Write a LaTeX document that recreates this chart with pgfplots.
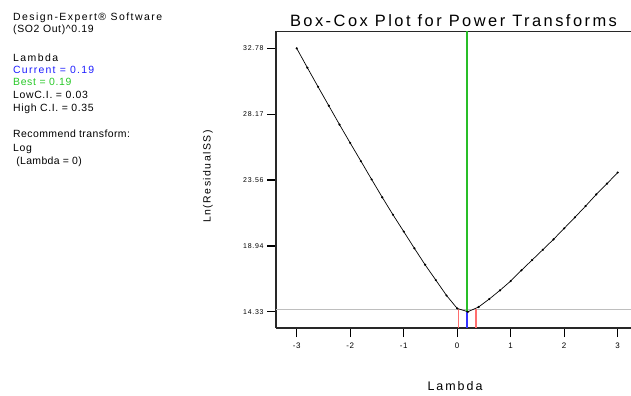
\documentclass[border=0pt]{standalone}
\usepackage{pgfplots}
\pgfplotsset{compat=1.18}
\usepackage{fontspec}
\setmainfont{Liberation Sans}

\definecolor{curblue}{RGB}{30,30,255}
\definecolor{bestgreen}{RGB}{40,200,40}
\definecolor{linegreen}{RGB}{40,190,40}
\definecolor{lineblue}{RGB}{50,50,255}
\definecolor{cired}{RGB}{255,110,110}
\definecolor{refgray}{RGB}{190,190,190}
\definecolor{axgray}{RGB}{40,40,40}

% letter-spaced text at a given size
\newcommand\txt[2]{\fontsize{#1}{#1}\selectfont\addfontfeature{LetterSpace=#2}}

\begin{document}
\begin{tikzpicture}
\useasboundingbox (0,0) rectangle (631bp,396bp);

% information panel on the left
\begin{scope}[every node/.style={anchor=base west, inner sep=0pt}]
\node at (13bp,{396bp-20.7bp}) {\txt{10.5}{14}Design-Expert\textregistered{} Software};
\node at (13bp,{396bp-32.7bp}) {\txt{10.5}{6}(SO2 Out)\^{}0.19};
\node at (13bp,{396bp-61.5bp}) {\txt{10.5}{14}Lambda};
\node at (13bp,{396bp-74bp}) {\txt{10.5}{12}\color{curblue}Current = 0.19};
\node at (13bp,{396bp-86bp}) {\txt{10.5}{6}\color{bestgreen}Best = 0.19};
\node at (13bp,{396bp-99bp}) {\txt{10.5}{6}LowC.I. = 0.03};
\node at (13bp,{396bp-112bp}) {\txt{10.5}{6}High C.I. = 0.35};
\node at (13bp,{396bp-137.5bp}) {\txt{10.5}{4}Recommend transform:};
\node at (13bp,{396bp-151.5bp}) {\txt{10.5}{6}Log};
\node at (13bp,{396bp-164.5bp}) {\txt{10.5}{3}\ (Lambda = 0)};
\end{scope}

% title and axis labels
\node[anchor=base, inner sep=0pt] at (453.5bp,{396bp-26.7bp}) {\txt{16.5}{15}Box-Cox Plot for Power Transforms};
\node[anchor=base, inner sep=0pt] at (455bp,{396bp-390.5bp}) {\txt{12.5}{16}Lambda};
\node[rotate=90, inner sep=0pt] at (208bp,{396bp-176.5bp}) {\txt{10.5}{14}Ln(ResidualSS)};

\begin{axis}[
  at={(276bp,68bp)}, anchor=south west,
  scale only axis, width=355bp, height=296.5bp,
  xmin=-3.387, xmax=3.249, ymin=13.19, ymax=33.96,
  axis x line*=box, axis y line*=left,
  axis line style={axgray, line width=1.3bp},
  tick align=outside, major tick length=9bp,
  tick style={black, line width=1.3bp},
  xtick={-3,-2,-1,0,1,2,3},
  xticklabels={-3,-2,-1,0,1,2,3},
  xtick pos=bottom, ytick pos=left,
  ytick={14.33,18.94,23.56,28.17,32.78},
  yticklabels={14.33,18.94,23.56,28.17,32.78},
  x tick label style={font=\txt{8}{8}, yshift=-2bp},
  y tick label style={font=\txt{7}{10}},
  clip=false,
]
% confidence threshold
\addplot[draw=refgray, line width=1bp] coordinates {(-3.387,14.52) (3.249,14.52)};
% confidence interval limits
\addplot[draw=cired, line width=1.2bp] coordinates {(0.03,13.19) (0.03,14.52)};
\addplot[draw=cired, line width=1.2bp] coordinates {(0.35,13.19) (0.35,14.52)};
% current lambda
\addplot[draw=lineblue, line width=2bp] coordinates {(0.19,13.19) (0.19,14.33)};
% best lambda
\addplot[draw=linegreen, line width=2bp] coordinates {(0.19,14.33) (0.19,33.96)};
% Box-Cox curve
\addplot[black, line width=0.7bp, mark=*, mark size=0.7bp] coordinates {
(-3.0,32.78) (-2.8,31.42) (-2.6,30.08) (-2.4,28.76) (-2.2,27.44)
(-2.0,26.15) (-1.8,24.88) (-1.6,23.60) (-1.4,22.34) (-1.2,21.12)
(-1.0,19.95) (-0.8,18.77) (-0.6,17.62) (-0.4,16.55) (-0.2,15.47)
(0.0,14.56) (0.2,14.33) (0.4,14.66) (0.6,15.22) (0.8,15.83)
(1.0,16.48) (1.2,17.23) (1.4,17.95) (1.6,18.67) (1.8,19.40)
(2.0,20.17) (2.2,20.94) (2.4,21.73) (2.6,22.55) (2.8,23.30)
(3.0,24.08)};
\end{axis}
\end{tikzpicture}
\end{document}
